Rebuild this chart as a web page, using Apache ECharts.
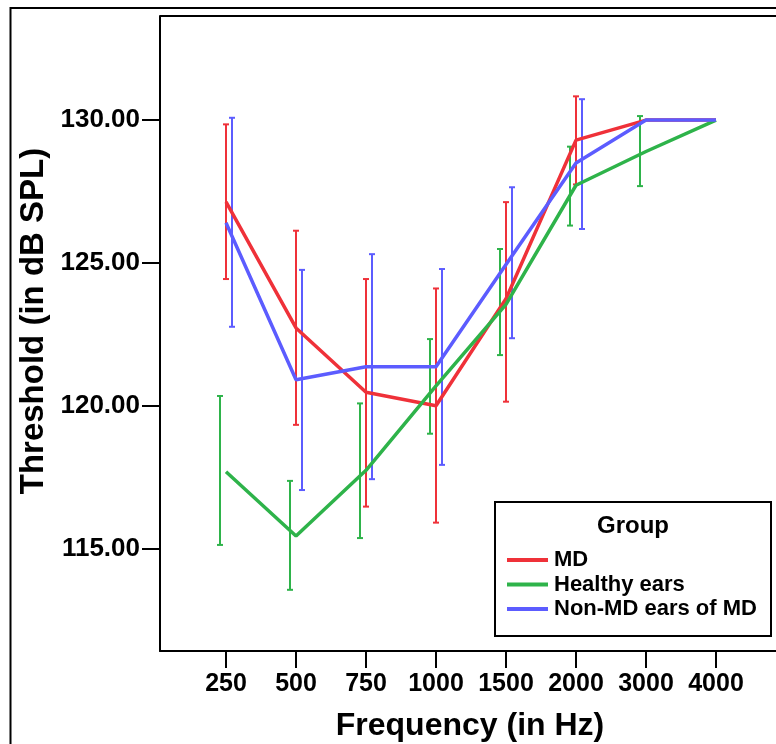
<!DOCTYPE html>
<html>
<head>
<meta charset="utf-8">
<script src="https://cdn.jsdelivr.net/npm/echarts@6/dist/echarts.min.js"></script>
<style>html,body{margin:0;padding:0;background:#fff}#c{width:776px;height:744px}</style>
</head>
<body>
<div id="c"></div>
<script>
const categories = ['250','500','750','1000','1500','2000','3000','4000'];
const yTicks = [115, 120, 125, 130];
const seriesNames = ['MD', 'Healthy ears', 'Non-MD ears of MD'];

const mdMean      = [127.14, 122.73, 120.48, 120.01, 123.75, 129.30, 130.00, 130.00];
const healthyMean = [117.70, 115.45, 117.75, 120.70, 123.55, 127.72, 128.90, 130.00];
const nonMdMean   = [126.41, 120.92, 121.37, 121.37, 124.95, 128.50, 130.00, 130.00];

const mdLow       = [124.44, 119.34, 116.48, 115.92, 120.15, 127.75, null, null];
const mdHigh      = [129.85, 126.13, 124.44, 124.11, 127.13, 130.83, null, null];
const healthyLow  = [115.14, 113.57, 115.38, 119.03, 121.78, 126.31, 127.69, null];
const healthyHigh = [120.35, 117.38, 120.09, 122.34, 125.49, 129.07, 130.14, null];
const nonMdLow    = [122.77, 117.06, 117.44, 117.94, 122.37, 126.19, null, null];
const nonMdHigh   = [130.08, 124.76, 125.31, 124.79, 127.65, 130.73, null, null];

const colors = ['#ef3139', '#2eb34a', '#5c5cff'];
const FONT = '"Liberation Sans", Arial, sans-serif';

function lineData(arr) { return arr.map((v, i) => [i, v]); }
function barData(lo, hi) {
  const out = [];
  lo.forEach((v, i) => { if (v != null && hi[i] != null) out.push([i, v, hi[i]]); });
  return out;
}
function errSeries(name, data, color, offset) {
  return {
    type: 'custom', name: name, data: data, z: 3,
    encode: { x: 0, y: [1, 2] },
    renderItem: function (params, api) {
      const x = api.value(0);
      const p1 = api.coord([x, api.value(1)]);
      const p2 = api.coord([x, api.value(2)]);
      const cx = p1[0] + offset;
      const st = { stroke: color, lineWidth: 2 };
      return { type: 'group', children: [
        { type: 'line', shape: { x1: cx, y1: p1[1], x2: cx, y2: p2[1] }, style: st },
        { type: 'line', shape: { x1: cx - 3, y1: p1[1], x2: cx + 3, y2: p1[1] }, style: st },
        { type: 'line', shape: { x1: cx - 3, y1: p2[1], x2: cx + 3, y2: p2[1] }, style: st }
      ]};
    }
  };
}
function lineSeries(name, arr, color, z) {
  return {
    type: 'line', name: name, data: lineData(arr), symbol: 'none', z: z,
    lineStyle: { color: color, width: 3.5 }, itemStyle: { color: color }
  };
}

const chart = echarts.init(document.getElementById('c'), null, { renderer: 'canvas' });
chart.setOption({
  animation: false,
  backgroundColor: '#fff',
  grid: { left: 160, top: 16, right: 0, bottom: 93, show: false },
  xAxis: {
    type: 'value', min: -0.943, max: 7.857,
    axisLine: { show: true, onZero: false, lineStyle: { color: '#000', width: 2 } },
    axisTick: { show: true, length: 17, lineStyle: { color: '#000', width: 2 }, customValues: categories.map((c, i) => i) },
    axisLabel: { customValues: categories.map((c, i) => i), formatter: v => categories[Math.round(v)] || '',
      color: '#000', fontFamily: FONT, fontWeight: 'bold', fontSize: 25, margin: 21 },
    splitLine: { show: false }
  },
  yAxis: {
    type: 'value', min: 111.43, max: 133.64,
    axisLine: { show: true, onZero: false, lineStyle: { color: '#000', width: 2 } },
    axisTick: { show: true, length: 18, lineStyle: { color: '#000', width: 2 }, customValues: yTicks },
    axisLabel: { customValues: yTicks, formatter: v => v.toFixed(2),
      color: '#000', fontFamily: FONT, fontWeight: 'bold', fontSize: 26, margin: 20 },
    splitLine: { show: false }
  },
  legend: {
    data: seriesNames, orient: 'vertical', left: 507, top: 549,
    icon: 'rect', itemWidth: 41, itemHeight: 4, itemGap: 2.5, padding: 0,
    textStyle: { color: '#000', fontFamily: FONT, fontWeight: 'bold', fontSize: 22, lineHeight: 20, padding: [0, 0, 0, 1] },
    selectedMode: false
  },
  graphic: [
    { type: 'rect', shape: { x: 10.5, y: 8, width: 800, height: 800 }, style: { fill: 'none', stroke: '#000', lineWidth: 2 }, z: 100, silent: true },
    { type: 'line', shape: { x1: 160, y1: 16, x2: 780, y2: 16 }, style: { stroke: '#000', lineWidth: 2 }, z: 100, silent: true },
    { type: 'rect', shape: { x: 495, y: 502, width: 276, height: 134 }, style: { fill: '#fff', stroke: '#000', lineWidth: 2 }, z: 0, silent: true },
    { type: 'text', x: 633, y: 526, style: { text: 'Group', fill: '#000', font: 'bold 24px ' + FONT, textAlign: 'center', textVerticalAlign: 'middle' }, z: 100 },
    { type: 'text', x: 470, y: 726, style: { text: 'Frequency (in Hz)', fill: '#000', font: 'bold 32px ' + FONT, textAlign: 'center', textVerticalAlign: 'middle' }, z: 100 },
    { type: 'text', x: 34, y: 321, rotation: Math.PI / 2, style: { text: 'Threshold (in dB SPL)', fill: '#000', font: 'bold 33px ' + FONT, textAlign: 'center', textVerticalAlign: 'middle' }, z: 100 }
  ],
  series: [
    errSeries('MD err', barData(mdLow, mdHigh), colors[0], 0),
    errSeries('Healthy err', barData(healthyLow, healthyHigh), colors[1], -6),
    errSeries('Non-MD err', barData(nonMdLow, nonMdHigh), colors[2], 6),
    lineSeries(seriesNames[0], mdMean, colors[0], 4),
    lineSeries(seriesNames[1], healthyMean, colors[1], 4),
    lineSeries(seriesNames[2], nonMdMean, colors[2], 5)
  ]
});
</script>
</body>
</html>
